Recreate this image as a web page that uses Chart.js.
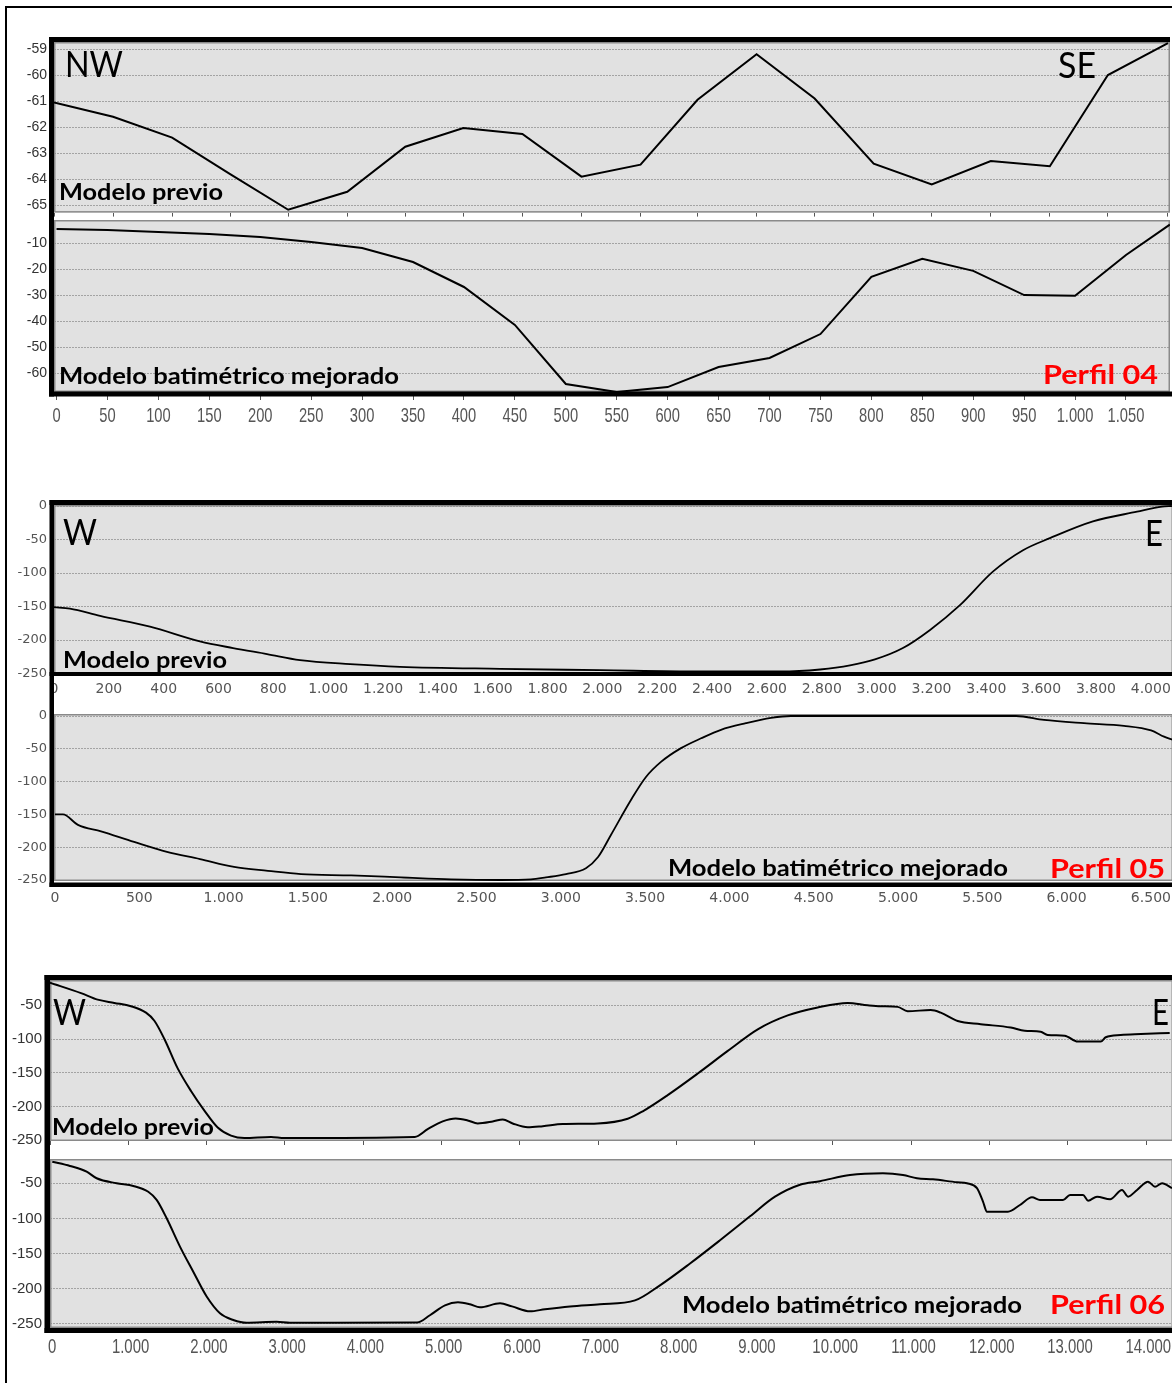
<!DOCTYPE html>
<html lang="es">
<head>
<meta charset="utf-8">
<title>Perfiles 04, 05 y 06</title>
<script src="https://cdn.jsdelivr.net/npm/chart.js@4.4.0/dist/chart.umd.min.js"></script>
<style>
  html, body { margin: 0; padding: 0; background: #fff; }
  #page { position: relative; width: 1172px; height: 1383px; overflow: hidden; background: #fff; }
  #page canvas { position: absolute; left: 0; }
  #overlay { position: absolute; left: 0; top: 0; pointer-events: none; }
</style>
</head>
<body>
<div id="page">
  <canvas id="p04prev"></canvas>
  <canvas id="p04mej"></canvas>
  <canvas id="p05prev"></canvas>
  <canvas id="p05mej"></canvas>
  <canvas id="p06prev"></canvas>
  <canvas id="p06mej"></canvas>

  <svg id="overlay" width="1172" height="1383" viewBox="0 0 1172 1383" xmlns="http://www.w3.org/2000/svg">
    <g fill="#000">
      <!-- outer frame -->
      <rect x="5" y="6" width="2" height="1377"/>
      <rect x="5" y="6" width="1167" height="2"/>
      <!-- Perfil 04 frame -->
      <rect x="49" y="37" width="1121" height="5"/>
      <rect x="49" y="37" width="5" height="359.5"/>
      <rect x="49" y="391.5" width="1123" height="5"/>
      <!-- Perfil 05 frame -->
      <rect x="49.5" y="500" width="1122.5" height="5"/>
      <rect x="49.5" y="500" width="4.5" height="387"/>
      <rect x="49.5" y="672" width="1122.5" height="4"/>
      <rect x="49.5" y="882.5" width="1122.5" height="4.5"/>
      <!-- Perfil 06 frame -->
      <rect x="44.5" y="975" width="1127.5" height="5"/>
      <rect x="44.5" y="975" width="5.5" height="358"/>
      <rect x="44.5" y="1328" width="1127.5" height="5"/>
    </g>
    <g font-family="Lato, 'Open Sans', sans-serif" fill="#000">
      <!-- Perfil 04 -->
      <text x="65" y="77" font-size="37" textLength="58" lengthAdjust="spacingAndGlyphs">NW</text>
      <text x="1058" y="78" font-size="37" textLength="38" lengthAdjust="spacingAndGlyphs">SE</text>
      <text x="59" y="200" font-size="22" font-weight="700" textLength="164" lengthAdjust="spacingAndGlyphs">Modelo previo</text>
      <text x="59" y="384" font-size="22" font-weight="700" textLength="340" lengthAdjust="spacingAndGlyphs">Modelo batimétrico mejorado</text>
      <text x="1043" y="384" font-size="26" font-weight="700" fill="#ff0000" textLength="115" lengthAdjust="spacingAndGlyphs">Perfil 04</text>
      <!-- Perfil 05 -->
      <text x="63" y="545" font-size="37" textLength="34" lengthAdjust="spacingAndGlyphs">W</text>
      <text x="1145" y="546" font-size="37" textLength="18" lengthAdjust="spacingAndGlyphs">E</text>
      <text x="63" y="668" font-size="22" font-weight="700" textLength="164" lengthAdjust="spacingAndGlyphs">Modelo previo</text>
      <text x="668" y="876" font-size="22" font-weight="700" textLength="340" lengthAdjust="spacingAndGlyphs">Modelo batimétrico mejorado</text>
      <text x="1050" y="878" font-size="26" font-weight="700" fill="#ff0000" textLength="115" lengthAdjust="spacingAndGlyphs">Perfil 05</text>
      <!-- Perfil 06 -->
      <text x="53" y="1025" font-size="37" textLength="33" lengthAdjust="spacingAndGlyphs">W</text>
      <text x="1152" y="1025" font-size="37" textLength="17" lengthAdjust="spacingAndGlyphs">E</text>
      <text x="52" y="1135" font-size="22" font-weight="700" textLength="162" lengthAdjust="spacingAndGlyphs">Modelo previo</text>
      <text x="682" y="1313" font-size="22" font-weight="700" textLength="340" lengthAdjust="spacingAndGlyphs">Modelo batimétrico mejorado</text>
      <text x="1050" y="1314" font-size="26" font-weight="700" fill="#ff0000" textLength="115" lengthAdjust="spacingAndGlyphs">Perfil 06</text>
    </g>
  </svg>
</div>

<script>
// ---- Perfil 04 (distancia en m, profundidad en m) ----
const p04PrevDist  = [0, 58, 116, 173, 230, 288, 345, 402, 460, 518, 576, 632, 690, 747, 805, 862, 920, 978, 1035, 1094];
const p04PrevDepth = [-61.05, -61.6, -62.4, -63.8, -65.17, -64.48, -62.75, -62.03, -62.26, -63.9, -63.44, -60.95, -59.2, -60.9, -63.4, -64.2, -63.3, -63.5, -60.0, -58.77];

const p04MejDist  = [0, 50, 100, 150, 200, 250, 300, 350, 400, 450, 500, 550, 600, 650, 700, 750, 800, 850, 900, 950, 1000, 1050, 1093];
const p04MejDepth = [-4.5, -4.9, -5.7, -6.4, -7.6, -9.5, -11.8, -17.2, -26.8, -41.4, -64.1, -67.2, -65.3, -57.6, -54.1, -44.9, -22.9, -16.0, -20.6, -29.9, -30.2, -14.5, -2.8];

// ---- Perfil 05 ----
const p05PrevDist  = [0, 58, 168, 350, 532, 653, 777, 897, 1080, 1262, 1627, 1991, 2356, 2648, 2794, 2903, 2994, 3096, 3195, 3304, 3424, 3534, 3632, 3789, 3950, 4041, 4077];
const p05PrevDepth = [-151, -153, -164, -180, -202, -212, -221, -230, -236, -240, -243, -245, -247, -247, -244, -238, -229, -212, -185, -148, -98, -66, -48, -23, -8.5, -1, 0];

const p05MejDist  = [0, 47, 136, 273, 469, 664, 860, 1062, 1263, 1459, 1756, 2052, 2349, 2645, 2823, 2912, 3031, 3149, 3221, 3298, 3416, 3505, 3594, 3713, 3832, 3950, 4098, 4247, 4365, 5700, 5866, 6103, 6340, 6501, 6578, 6631];
const p05MejDepth = [-150, -150, -166, -176, -192, -207, -218, -230, -236, -241, -243, -246, -249, -250, -249, -246, -241, -232, -215, -181, -128, -93, -70, -49, -34, -21, -11, -3, 0, 0, -6, -11, -15, -22, -31.5, -36.6];

// ---- Perfil 06 ----
const p06PrevDist  = [0, 396, 609, 822, 1035, 1226, 1333, 1461, 1631, 1801, 1972, 2142, 2312, 2483, 2823, 2994, 4659, 4824, 5016, 5182, 5335, 5463, 5655, 5783, 5910, 6102, 6294, 6549, 6996, 7379, 7571, 7890, 8274, 8657, 9040, 9423, 9806, 10189, 10444, 10610, 10827, 10955, 11249, 11377, 11594, 11888, 12271, 12450, 12654, 12743, 12961, 13127, 13421, 13485, 13676, 13932, 14302];
const p06PrevDepth = [-16.6, -32, -41.7, -46.5, -51.4, -61, -73, -100, -143.5, -177, -206, -231, -243, -246.7, -245, -246.7, -245, -233.5, -222, -217.7, -220.5, -225, -222, -219, -225, -230.6, -229, -226, -225, -218, -207, -183, -151, -117.6, -85.6, -65, -53.3, -46.5, -50, -51.5, -52.4, -58.7, -57.2, -61, -73.3, -78, -83, -87.8, -89.2, -94, -95, -103.8, -103.8, -97.4, -94, -92.6, -91];

const p06MejDist  = [0, 226, 439, 567, 822, 1035, 1226, 1333, 1461, 1631, 1801, 1972, 2142, 2312, 2483, 2866, 3036, 4659, 4824, 5016, 5182, 5335, 5463, 5719, 5872, 6102, 6294, 6613, 6996, 7443, 7762, 8146, 8529, 8912, 9231, 9551, 9806, 10189, 10610, 10866, 11045, 11249, 11556, 11683, 11811, 11888, 11939, 12207, 12360, 12514, 12616, 12910, 13000, 13166, 13230, 13345, 13511, 13664, 13741, 13856, 13996, 14085, 14175, 14302];
const p06MejDepth = [-19.3, -25.4, -33.5, -42.9, -50, -53.8, -62, -73.7, -99.8, -140, -175.7, -211, -234.8, -244.3, -248.2, -246.8, -248.2, -248, -237.6, -223.5, -219.2, -222, -226.3, -220.7, -225, -232, -229, -225, -222, -216.5, -195, -164, -131, -97, -69, -52, -47, -38.2, -35.8, -38.2, -42.9, -44.3, -48.6, -50, -57, -76, -90.4, -90.4, -80.9, -69.9, -73.7, -73.7, -66.6, -66.6, -74.7, -69, -72.7, -59.5, -69, -59.5, -47.7, -54.8, -50, -57];

// ---- Tick values ----
const p04DistTicks      = [0, 50, 100, 150, 200, 250, 300, 350, 400, 450, 500, 550, 600, 650, 700, 750, 800, 850, 900, 950, 1000, 1050];
const p04PrevDepthTicks = [-65, -64, -63, -62, -61, -60, -59];
const p04MejDepthTicks  = [-60, -50, -40, -30, -20, -10];
const p05PrevDistTicks  = [0, 200, 400, 600, 800, 1000, 1200, 1400, 1600, 1800, 2000, 2200, 2400, 2600, 2800, 3000, 3200, 3400, 3600, 3800, 4000];
const p05MejDistTicks   = [0, 500, 1000, 1500, 2000, 2500, 3000, 3500, 4000, 4500, 5000, 5500, 6000, 6500];
const p05DepthTicks     = [-250, -200, -150, -100, -50, 0];
const p06DistTicks      = [0, 1000, 2000, 3000, 4000, 5000, 6000, 7000, 8000, 9000, 10000, 11000, 12000, 13000, 14000];
const p06DepthTicks     = [-250, -200, -150, -100, -50];

// Thousands separated with a dot: 1000 -> "1.000"
function fmtThousands(v) {
  const n = Math.round(Math.abs(v));
  const s = String(n).replace(/\B(?=(\d{3})+(?!\d))/g, '.');
  return (v < 0 ? '-' : '') + s;
}

// Plot background, thin gray edge, and optional condensed distance labels
const panelFrame = {
  id: 'panelFrame',
  beforeDraw(chart) {
    const { ctx, chartArea: a } = chart;
    ctx.save();
    ctx.fillStyle = '#e1e1e1';
    ctx.fillRect(a.left, a.top, a.right - a.left, a.bottom - a.top);
    ctx.restore();
  },
  beforeDatasetsDraw(chart) {
    const { ctx, chartArea: a } = chart;
    ctx.save();
    ctx.strokeStyle = '#8a8a8a';
    ctx.lineWidth = 1.5;
    ctx.strokeRect(a.left + 0.75, a.top + 0.75, a.right - a.left - 1.5, a.bottom - a.top - 1.5);
    ctx.restore();
  },
  afterDraw(chart, args, opts) {
    const lab = opts && opts.narrowLabels;
    if (!lab) return;
    const { ctx, chartArea: a } = chart;
    const xs = chart.scales.x;
    ctx.save();
    ctx.fillStyle = lab.color;
    ctx.font = lab.size + 'px ' + lab.family;
    ctx.textAlign = 'center';
    ctx.textBaseline = 'alphabetic';
    xs.ticks.forEach(t => {
      const px = xs.getPixelForValue(t.value);
      ctx.save();
      ctx.translate(px, a.bottom + lab.baseline);
      ctx.scale(lab.squeeze, 1);
      ctx.fillText(fmtThousands(t.value), 0, 0);
      ctx.restore();
    });
    ctx.restore();
  }
};

const FONT_SANS = "'Liberation Sans', Arial, sans-serif";
const FONT_WIDE = "'DejaVu Sans', Verdana, sans-serif";
const CANVAS_W = 1210;

function profileChart(id, cfg) {
  const cv = document.getElementById(id);
  const h = cfg.box[1] - cfg.box[0];
  cv.width = CANVAS_W;
  cv.height = h;
  cv.style.top = cfg.box[0] + 'px';
  cv.style.width = CANVAS_W + 'px';
  cv.style.height = h + 'px';

  const points = cfg.dist.map((d, i) => ({ x: d, y: cfg.depth[i] }));
  const showLabels = cfg.x.labels !== false && !cfg.x.narrow;

  return new Chart(cv, {
    type: 'line',
    data: {
      datasets: [{
        data: points,
        borderColor: '#000',
        borderWidth: cfg.lineWidth || 2,
        pointRadius: 0,
        fill: false,
        tension: cfg.smooth ? 0.4 : 0,
        cubicInterpolationMode: cfg.smooth ? 'monotone' : 'default'
      }]
    },
    options: {
      responsive: false,
      animation: false,
      devicePixelRatio: 1,
      events: [],
      layout: {
        padding: { top: cfg.plot.top - cfg.box[0], right: CANVAS_W - cfg.plot.right, left: 0, bottom: 0 }
      },
      plugins: {
        legend: { display: false },
        tooltip: { enabled: false },
        title: { display: false },
        panelFrame: { narrowLabels: cfg.x.narrow || null }
      },
      scales: {
        x: {
          type: 'linear',
          min: cfg.x.min,
          max: cfg.x.max,
          afterBuildTicks: s => { s.ticks = cfg.x.ticks.map(v => ({ value: v })); },
          afterFit: s => { s.height = cfg.box[1] - cfg.plot.bottom; },
          grid: {
            drawOnChartArea: false,
            drawTicks: cfg.x.tickLength > 0,
            tickLength: cfg.x.tickLength || 0,
            tickColor: '#555',
            tickWidth: 1
          },
          border: { display: false },
          ticks: {
            display: showLabels,
            autoSkip: false,
            maxRotation: 0,
            minRotation: 0,
            padding: cfg.x.padding || 3,
            color: cfg.x.color || '#555',
            font: cfg.x.font,
            callback: v => fmtThousands(v)
          }
        },
        y: {
          type: 'linear',
          min: cfg.y.min,
          max: cfg.y.max,
          afterBuildTicks: s => { s.ticks = cfg.y.ticks.map(v => ({ value: v })); },
          afterFit: s => { s.width = cfg.plot.left; },
          grid: { color: '#a3a3a3', lineWidth: 1, drawTicks: false },
          border: { display: false, dash: [2, 1] },
          ticks: {
            padding: cfg.y.padding,
            color: cfg.y.color || '#333',
            font: cfg.y.font,
            callback: v => fmtThousands(v)
          }
        }
      }
    },
    plugins: [panelFrame]
  });
}

// Perfil 04 — modelo previo
profileChart('p04prev', {
  box: [20, 228], plot: { left: 54, right: 1170, top: 42, bottom: 213 },
  dist: p04PrevDist, depth: p04PrevDepth,
  x: { min: 0, max: 1096, ticks: p04PrevDist, labels: false, tickLength: 4 },
  y: { min: -65.28, max: -58.73, ticks: p04PrevDepthTicks, padding: 7, font: { family: FONT_SANS, size: 14 }, color: '#333' }
});

// Perfil 04 — modelo batimétrico mejorado
profileChart('p04mej', {
  box: [198, 436], plot: { left: 54, right: 1170, top: 220, bottom: 392 },
  dist: p04MejDist, depth: p04MejDepth,
  x: { min: -2.5, max: 1093.2, ticks: p04DistTicks, tickLength: 8,
       narrow: { family: FONT_SANS, size: 21, squeeze: 0.7, color: '#555', baseline: 30 } },
  y: { min: -67.19, max: -1.04, ticks: p04MejDepthTicks, padding: 7, font: { family: FONT_SANS, size: 14 }, color: '#333' }
});

// Perfil 05 — modelo previo
profileChart('p05prev', {
  box: [484, 706], plot: { left: 54, right: 1173, top: 505, bottom: 674 },
  dist: p05PrevDist, depth: p05PrevDepth, smooth: true, lineWidth: 1.8,
  x: { min: 0, max: 4081, ticks: p05PrevDistTicks, tickLength: 0, padding: 7, font: { family: FONT_WIDE, size: 14 }, color: '#555' },
  y: { min: -250.7, max: 1.5, ticks: p05DepthTicks, padding: 7, font: { family: FONT_WIDE, size: 13 }, color: '#555' }
});

// Perfil 05 — modelo batimétrico mejorado
profileChart('p05mej', {
  box: [692, 916], plot: { left: 54, right: 1173, top: 714, bottom: 881 },
  dist: p05MejDist, depth: p05MejDepth, smooth: true, lineWidth: 1.8,
  x: { min: -6, max: 6631, ticks: p05MejDistTicks, tickLength: 0, padding: 9, font: { family: FONT_WIDE, size: 14 }, color: '#555' },
  y: { min: -251.5, max: 3.05, ticks: p05DepthTicks, padding: 7, font: { family: FONT_WIDE, size: 13 }, color: '#555' }
});

// Perfil 06 — modelo previo
profileChart('p06prev', {
  box: [958, 1158], plot: { left: 50, right: 1173, top: 980, bottom: 1144 },
  dist: p06PrevDist, depth: p06PrevDepth, smooth: true,
  x: { min: 0, max: 14344, ticks: p06DistTicks, labels: false, tickLength: 4 },
  y: { min: -251.0, max: -12.6, ticks: p06DepthTicks, padding: 8, font: { family: FONT_SANS, size: 15 }, color: '#333' }
});

// Perfil 06 — modelo batimétrico mejorado
profileChart('p06mej', {
  box: [1138, 1372], plot: { left: 50, right: 1173, top: 1159, bottom: 1328 },
  dist: p06MejDist, depth: p06MejDepth, smooth: true,
  x: { min: -29, max: 14315, ticks: p06DistTicks, tickLength: 0,
       narrow: { family: FONT_SANS, size: 21, squeeze: 0.71, color: '#555', baseline: 25 } },
  y: { min: -255.7, max: -15.5, ticks: p06DepthTicks, padding: 8, font: { family: FONT_SANS, size: 15 }, color: '#333' }
});
</script>
</body>
</html>
